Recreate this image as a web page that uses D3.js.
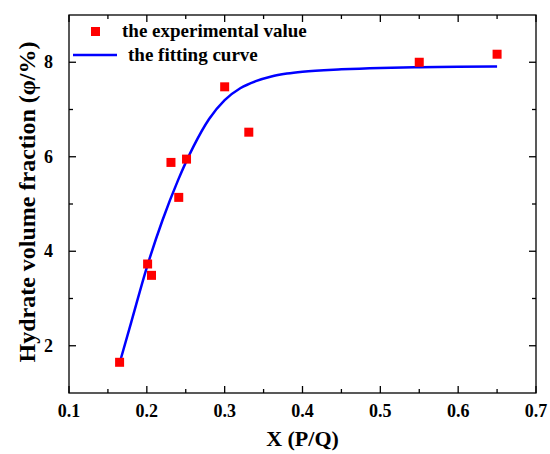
<!DOCTYPE html>
<html>
<head>
<meta charset="utf-8">
<script src="https://cdn.jsdelivr.net/npm/d3@7"></script>
<style>
  body { margin: 0; background: #fff; }
  text { font-family: "Liberation Serif", "Times New Roman", serif; font-weight: bold; }
</style>
</head>
<body>
<div id="chart"></div>
<script>
// experimental points
const expX = [0.165, 0.201, 0.206, 0.231, 0.241, 0.251, 0.300, 0.331, 0.550, 0.650];
const expY = [1.65, 3.73, 3.49, 5.88, 5.14, 5.95, 7.48, 6.52, 8.00, 8.17];

// fitting curve
const fitX = [0.166, 0.18, 0.20, 0.22, 0.24, 0.26, 0.28, 0.30, 0.32, 0.34, 0.36, 0.38, 0.40, 0.45, 0.50, 0.55, 0.60, 0.65];
const fitY = [1.69, 2.50, 3.66, 4.65, 5.50, 6.22, 6.80, 7.20, 7.45, 7.60, 7.70, 7.76, 7.80, 7.85, 7.88, 7.895, 7.905, 7.91];

const xTicks = [0.1, 0.2, 0.3, 0.4, 0.5, 0.6, 0.7];
const yTicks = [2, 4, 6, 8];

const width = 550, height = 454;
const margin = { left: 69, right: 14, top: 15, bottom: 61 };

const svg = d3.select('#chart').append('svg')
    .attr('width', width)
    .attr('height', height);

const x = d3.scaleLinear().domain([0.1, 0.7]).range([margin.left, width - margin.right]);
const y = d3.scaleLinear().domain([1, 9]).range([height - margin.bottom, margin.top]);

const x0 = x.range()[0], x1 = x.range()[1];
const y0 = y.range()[0], y1 = y.range()[1];

// curve
const line = d3.line()
    .x((d, i) => x(fitX[i]))
    .y(d => y(d))
    .curve(d3.curveMonotoneX);

svg.append('path')
    .datum(fitY)
    .attr('d', line)
    .attr('fill', 'none')
    .attr('stroke', '#0000ff')
    .attr('stroke-width', 2.5);

// points
const sq = 9;
svg.append('g')
    .selectAll('rect')
    .data(expY)
    .enter()
    .append('rect')
    .attr('x', (d, i) => x(expX[i]) - sq / 2)
    .attr('y', d => y(d) - sq / 2)
    .attr('width', sq)
    .attr('height', sq)
    .attr('fill', '#ff0000');

// axes, ticks inward on all four sides
const xMinor = d3.range(0.15, 0.7, 0.1);
const yMinor = [3, 5, 7];
const axisG = svg.append('g').attr('stroke', '#000').attr('stroke-width', 1.3);

axisG.append('rect')
    .attr('x', x0).attr('y', y1)
    .attr('width', x1 - x0).attr('height', y0 - y1)
    .attr('fill', 'none');

xTicks.concat(xMinor).forEach((v, i) => {
    const len = i < xTicks.length ? 7 : 4;
    axisG.append('line').attr('x1', x(v)).attr('x2', x(v)).attr('y1', y0).attr('y2', y0 - len);
    axisG.append('line').attr('x1', x(v)).attr('x2', x(v)).attr('y1', y1).attr('y2', y1 + len);
});
yTicks.concat(yMinor).forEach((v, i) => {
    const len = i < yTicks.length ? 7 : 4;
    axisG.append('line').attr('y1', y(v)).attr('y2', y(v)).attr('x1', x0).attr('x2', x0 + len);
    axisG.append('line').attr('y1', y(v)).attr('y2', y(v)).attr('x1', x1).attr('x2', x1 - len);
});

// tick labels
svg.append('g')
    .selectAll('text')
    .data(xTicks)
    .enter()
    .append('text')
    .attr('x', d => x(d))
    .attr('y', y0 + 24)
    .attr('text-anchor', 'middle')
    .attr('font-size', 18)
    .text(d => d3.format('.1f')(d));

svg.append('g')
    .selectAll('text')
    .data(yTicks)
    .enter()
    .append('text')
    .attr('x', x0 - 16)
    .attr('y', d => y(d) + 6)
    .attr('text-anchor', 'end')
    .attr('font-size', 18)
    .text(d => d);

// axis titles
svg.append('text')
    .attr('x', (x0 + x1) / 2)
    .attr('y', 446)
    .attr('text-anchor', 'middle')
    .attr('font-size', 22)
    .text('X (P/Q)');

svg.append('text')
    .attr('transform', 'translate(35,202) rotate(-90)')
    .attr('text-anchor', 'middle')
    .attr('font-size', 24)
    .text('Hydrate volume fraction (φ/%)');

// legend
const legend = svg.append('g');
legend.append('rect')
    .attr('x', 91).attr('y', 27)
    .attr('width', sq).attr('height', sq)
    .attr('fill', '#ff0000');
legend.append('text')
    .attr('x', 122).attr('y', 37)
    .attr('font-size', 19)
    .text('the experimental value');
legend.append('line')
    .attr('x1', 73).attr('x2', 117)
    .attr('y1', 55).attr('y2', 55)
    .attr('stroke', '#0000ff')
    .attr('stroke-width', 2.5);
legend.append('text')
    .attr('x', 128).attr('y', 61)
    .attr('font-size', 19)
    .text('the fitting curve');
</script>
</body>
</html>
